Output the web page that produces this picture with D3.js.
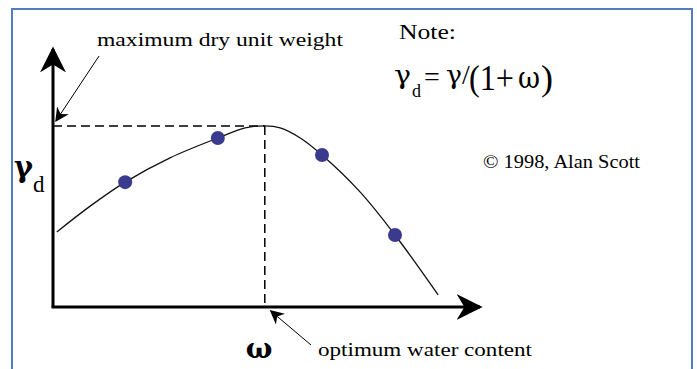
<!DOCTYPE html>
<html><head><meta charset="utf-8">
<script src="https://cdn.jsdelivr.net/npm/d3@7"></script>
<style>html,body{margin:0;padding:0;background:#fff;}svg{display:block;}</style>
</head><body>
<svg id="c" width="697" height="369"></svg>
<script>
// Compaction curve (abstract units: water content 0-100, dry unit weight 0-100)
const curveW = [0.9, 8.7, 16.9, 27.4, 38.6, 45.0, 49.6, 53.2, 57.9, 63.0, 71.9, 80.1, 90.2];
const curveG = [29.1, 39.1, 48.4, 57.8, 65.5, 69.4, 70.2, 69.4, 65.5, 58.9, 44.6, 27.9, 4.7];
const testW = [16.9, 38.6, 63.0, 80.1];
const testG = [48.4, 65.5, 58.9, 27.9];
const optW = 49.6;
const maxG = 70.2;
const labels = {
  maxLabel: "maximum dry unit weight",
  optLabel: "optimum water content",
  note: "Note:",
  copyright: "\u00A9 1998, Alan Scott"
};

const svg = d3.select("#c");
const x = d3.scaleLinear().domain([0, 100]).range([53, 480]);
const y = d3.scaleLinear().domain([0, 100]).range([307, 49]);
const font = "'Liberation Serif','Times New Roman',serif";
const greek = "'DejaVu Serif','Liberation Serif',serif";

// frame border
svg.append("rect").attr("x", 12).attr("y", 9).attr("width", 680).attr("height", 380)
  .attr("fill", "none").attr("stroke", "#4f7fbf").attr("stroke-width", 2);

const defs = svg.append("defs");
function arrowHead(id, size) {
  defs.append("marker").attr("id", id).attr("viewBox", "0 0 10 10")
    .attr("refX", 9).attr("refY", 5).attr("markerWidth", size).attr("markerHeight", size)
    .attr("markerUnits", "userSpaceOnUse").attr("orient", "auto")
    .append("path").attr("d", "M0,0 L10,5 L0,10 L3,5 Z").attr("fill", "#000");
}
arrowHead("big", 26);
arrowHead("small", 14);

// axes
svg.append("line").attr("x1", x(0)).attr("y1", y(0)).attr("x2", x(0)).attr("y2", y(100))
  .attr("stroke", "#000").attr("stroke-width", 3).attr("marker-end", "url(#big)");
svg.append("line").attr("x1", x(0) - 1.5).attr("y1", y(0)).attr("x2", x(100)).attr("y2", y(0))
  .attr("stroke", "#000").attr("stroke-width", 3).attr("marker-end", "url(#big)");

// dashed guides
svg.append("line").attr("x1", x(0)).attr("y1", y(maxG)).attr("x2", x(optW)).attr("y2", y(maxG))
  .attr("stroke", "#000").attr("stroke-width", 1.5).attr("stroke-dasharray", "9,5");
svg.append("line").attr("x1", x(optW)).attr("y1", y(maxG)).attr("x2", x(optW)).attr("y2", y(0))
  .attr("stroke", "#000").attr("stroke-width", 1.5).attr("stroke-dasharray", "9,5");

// curve
const pts = curveW.map((w, i) => [w, curveG[i]]);
const line = d3.line().x(d => x(d[0])).y(d => y(d[1])).curve(d3.curveCatmullRom.alpha(0.5));
svg.append("path").attr("d", line(pts)).attr("fill", "none").attr("stroke", "#111").attr("stroke-width", 1.3);

// test points
svg.selectAll("circle.pt").data(testW.map((w, i) => [w, testG[i]])).join("circle")
  .attr("class", "pt").attr("cx", d => x(d[0])).attr("cy", d => y(d[1])).attr("r", 7)
  .attr("fill", "#3a3a8e");

// axis labels
svg.append("text").attr("x", 14).attr("y", 177).attr("font-family", greek).attr("font-size", 30)
  .attr("font-weight", "bold").attr("textLength", 19).attr("lengthAdjust", "spacingAndGlyphs").text("\u03B3");
svg.append("text").attr("x", 33).attr("y", 192).attr("font-family", font).attr("font-size", 23).text("d");
svg.append("text").attr("x", 259).attr("y", 358).attr("text-anchor", "middle").attr("font-family", greek)
  .attr("font-size", 28).attr("font-weight", "bold").text("\u03C9");

// annotations
svg.append("text").attr("x", 97).attr("y", 46).attr("font-family", font).attr("font-size", 19)
  .attr("textLength", 246).attr("lengthAdjust", "spacingAndGlyphs").text(labels.maxLabel);
svg.append("line").attr("x1", 99).attr("y1", 56).attr("x2", x(0) + 3).attr("y2", y(maxG) - 5)
  .attr("stroke", "#000").attr("stroke-width", 1).attr("marker-end", "url(#small)");

svg.append("text").attr("x", 318).attr("y", 356).attr("font-family", font).attr("font-size", 19)
  .attr("textLength", 214).attr("lengthAdjust", "spacingAndGlyphs").text(labels.optLabel);
svg.append("line").attr("x1", 311).attr("y1", 345).attr("x2", x(optW) + 6).attr("y2", y(0) + 4)
  .attr("stroke", "#000").attr("stroke-width", 1).attr("marker-end", "url(#small)");

svg.append("text").attr("x", 399).attr("y", 39).attr("font-family", font).attr("font-size", 20)
  .attr("textLength", 57).attr("lengthAdjust", "spacingAndGlyphs").text(labels.note);

// formula
const fg = svg.append("g").attr("fill", "#000");
fg.append("text").attr("x", 394).attr("y", 84).attr("font-family", greek).attr("font-size", 26)
  .attr("textLength", 17).attr("lengthAdjust", "spacingAndGlyphs").text("\u03B3");
fg.append("text").attr("x", 412).attr("y", 97).attr("font-family", font).attr("font-size", 18).text("d");
fg.append("text").attr("x", 424).attr("y", 86).attr("font-family", font).attr("font-size", 28).text("=");
fg.append("text").attr("x", 446).attr("y", 84).attr("font-family", greek).attr("font-size", 26)
  .attr("textLength", 16).attr("lengthAdjust", "spacingAndGlyphs").text("\u03B3");
fg.append("text").attr("x", 462).attr("y", 84).attr("font-family", font).attr("font-size", 28).text("/");
fg.append("text").attr("x", 469).attr("y", 90).attr("font-family", font).attr("font-size", 36)
  .attr("textLength", 45).attr("lengthAdjust", "spacingAndGlyphs").text("(1+");
fg.append("text").attr("x", 518).attr("y", 88).attr("font-family", greek).attr("font-size", 30)
  .attr("textLength", 22).attr("lengthAdjust", "spacingAndGlyphs").text("\u03C9");
fg.append("text").attr("x", 541).attr("y", 90).attr("font-family", font).attr("font-size", 36).text(")");

svg.append("text").attr("x", 483).attr("y", 168).attr("font-family", font).attr("font-size", 19)
  .attr("textLength", 157).attr("lengthAdjust", "spacingAndGlyphs").text(labels.copyright);
</script>
</body></html>
